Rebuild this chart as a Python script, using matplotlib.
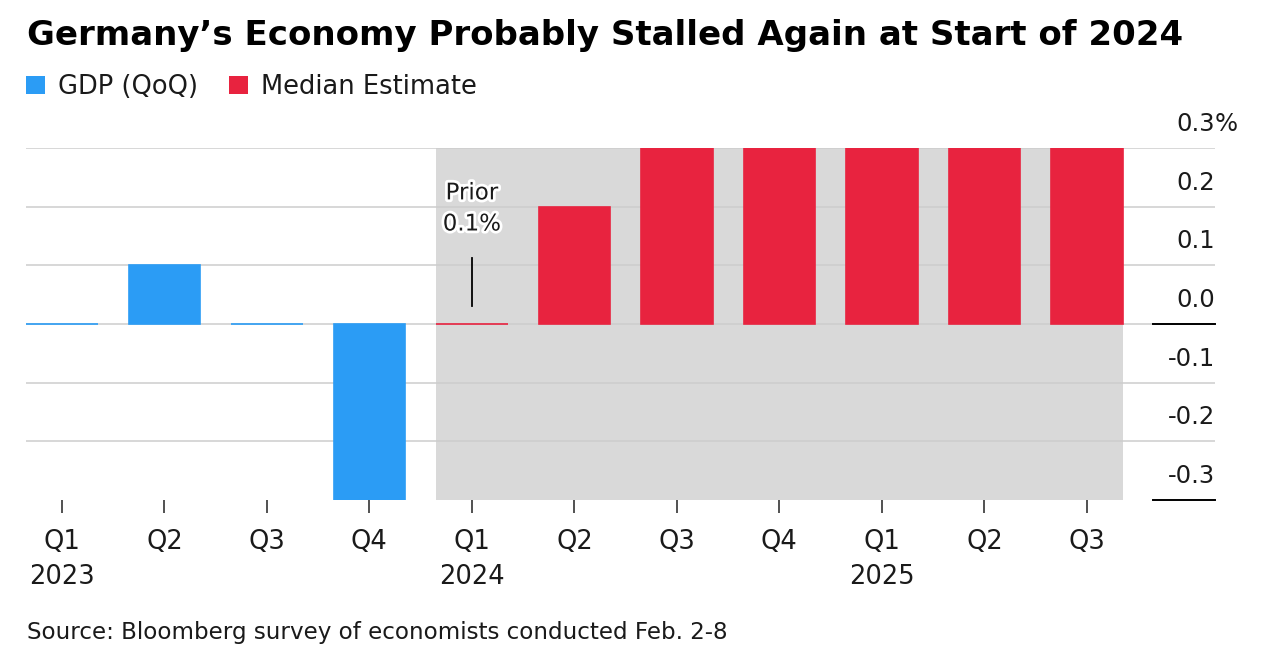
import matplotlib
matplotlib.use("Agg")
import matplotlib.pyplot as plt
import matplotlib.patheffects as pe
from matplotlib.patches import Patch
import matplotlib.transforms as mtransforms

plt.rcParams['font.family'] = ['DejaVu Sans']

# data
quarters = ['Q1', 'Q2', 'Q3', 'Q4', 'Q1', 'Q2', 'Q3', 'Q4', 'Q1', 'Q2', 'Q3']
years = ['2023', '', '', '', '2024', '', '', '', '2025', '', '']
gdp = [0.0, 0.1, 0.0, -0.3]                          # Q1 2023 - Q4 2023
estimate = [0.0, 0.2, 0.3, 0.3, 0.3, 0.3, 0.3]       # Q1 2024 - Q3 2025
prior = 0.1
yticks = [0.3, 0.2, 0.1, 0.0, -0.1, -0.2, -0.3]

blue = '#2b9cf5'
red = '#e8233f'
shade = '#d9d9d9'
grid = '#cdcdcd'
ink = '#1a1a1a'

W, H = 1276, 668
fig = plt.figure(figsize=(W / 100, H / 100), dpi=100)
ax = fig.add_axes([26 / W, (H - 500) / H, (1215 - 26) / W, (500 - 148) / H])

x_gdp = list(range(len(gdp)))
x_est = list(range(len(gdp), len(gdp) + len(estimate)))
bw = 0.7

ax.bar(x_gdp, gdp, width=bw, color=blue, edgecolor=blue, linewidth=1.2, zorder=3)
ax.bar(x_est, estimate, width=bw, color=red, edgecolor=red, linewidth=1.2, zorder=3)

# forecast shading
ax.axvspan(x_est[0] - bw / 2, x_est[-1] + bw / 2, color=shade, zorder=0, lw=0)

# gridlines
for v in yticks[:-1]:
    ax.axhline(v, color=grid, lw=1.1, zorder=1)
for v in (0.0, -0.3):
    ax.axhline(v, xmin=0.948, xmax=1.0, color='black', lw=1.4, zorder=4, clip_on=False)

ax.set_xlim(-0.35, 11.25)
ax.set_ylim(-0.3, 0.3)
for s in ax.spines.values():
    s.set_visible(False)
ax.set_yticks([])

ax.set_xticks(range(len(quarters)))
ax.set_xticklabels([q + '\n' + y if y else q for q, y in zip(quarters, years)],
                   fontsize=18.5, color=ink, linespacing=1.42, va='top')
ax.tick_params(axis='x', length=9, width=1.2, color='#333333', pad=12)

# right-side value labels
off = mtransforms.offset_copy(ax.transData, fig=fig, x=0, y=17, units='dots')
for v in yticks:
    ax.text(11.25, v, f'{v:.1f}', transform=off, ha='right', va='baseline',
            fontsize=17.5, color=ink, clip_on=False)
ax.text(11.25, yticks[0], '%', transform=off, ha='left', va='baseline',
        fontsize=17.5, color=ink, clip_on=False)

# prior annotation
ax.plot([x_est[0], x_est[0]], [0.03, 0.112], color='black', lw=1.3, zorder=5)
ax.text(x_est[0], 0.197, f'Prior\n{prior:.1f}%', ha='center', va='center',
        fontsize=16.5, color=ink, linespacing=1.45, zorder=6,
        path_effects=[pe.withStroke(linewidth=4, foreground='white')])

# title, legend, source
fig.text(27 / W, 1 - 35 / H, 'Germany\u2019s Economy Probably Stalled Again at Start of 2024',
         fontsize=24.5, fontweight='bold', ha='left', va='center', color='black')
handles = [Patch(facecolor=blue, label='GDP (QoQ)'),
           Patch(facecolor=red, label='Median Estimate')]
fig.legend(handles=handles, loc='center left', bbox_to_anchor=(26 / W, 1 - 87 / H),
           ncol=2, frameon=False, fontsize=18.5, handlelength=0.75, handleheight=0.75,
           handletextpad=0.5, columnspacing=1.2, labelcolor=ink,
           borderpad=0, borderaxespad=0)
fig.text(27 / W, 1 - 633 / H, 'Source: Bloomberg survey of economists conducted Feb. 2-8',
         fontsize=16.6, ha='left', va='center', color=ink)

fig.savefig('out.png', dpi=100, facecolor='white')
